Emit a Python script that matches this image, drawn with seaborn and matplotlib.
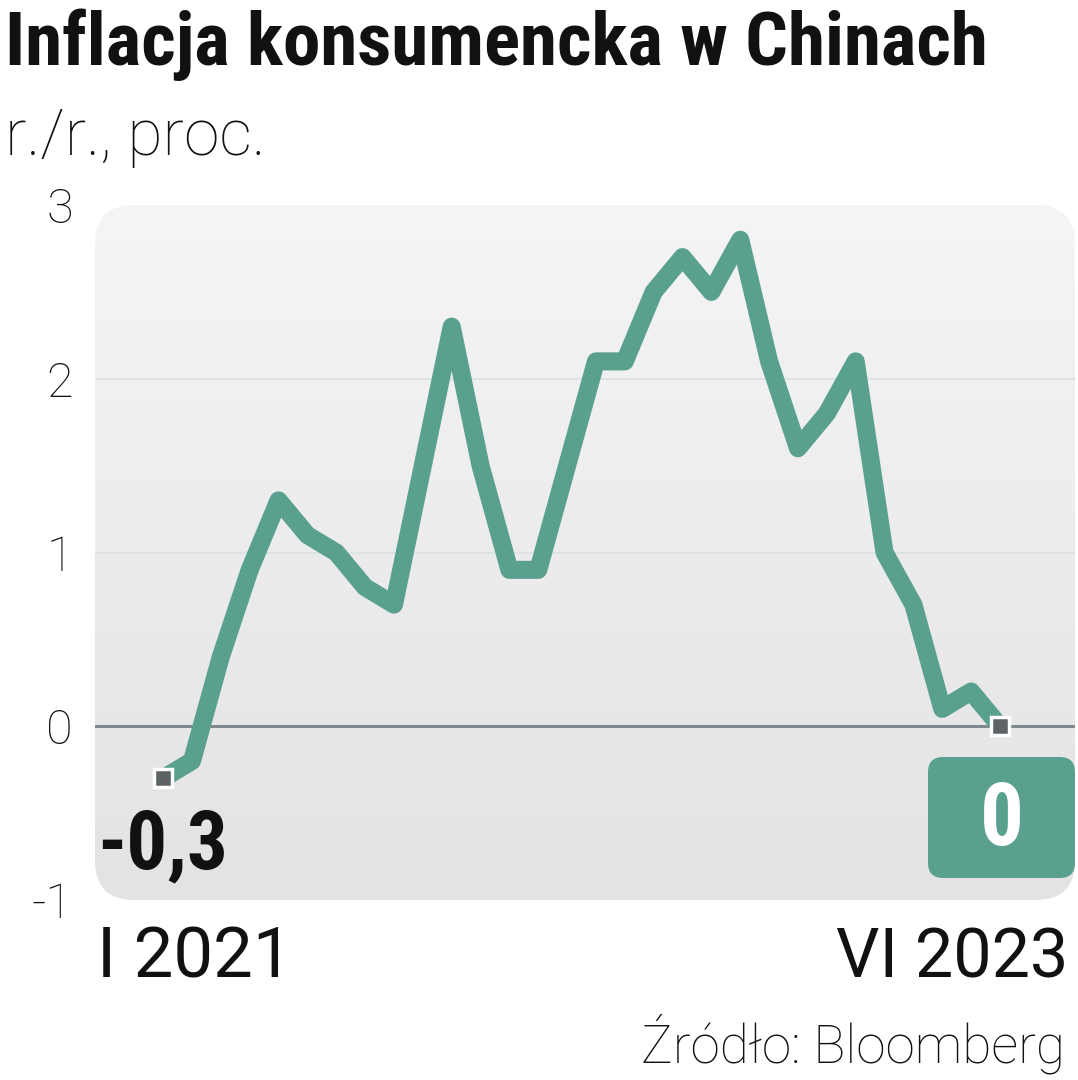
import numpy as np
import pandas as pd
import matplotlib.pyplot as plt
import seaborn as sns
from matplotlib.patches import FancyBboxPatch
from matplotlib.colors import LinearSegmentedColormap

# data: CPI y/y, monthly I 2021 - VI 2023
months = pd.date_range("2021-01-01", periods=30, freq="MS")
cpi = [-0.3, -0.2, 0.4, 0.9, 1.3, 1.1, 1.0, 0.8, 0.7, 1.5, 2.3, 1.5,
       0.9, 0.9, 1.5, 2.1, 2.1, 2.5, 2.7, 2.5, 2.8, 2.1, 1.6, 1.8,
       2.1, 1.0, 0.7, 0.1, 0.2, 0.0]
y_ticks = [-1, 0, 1, 2, 3]
y_tick_labels = ["-1", "0", "1", "2", "3"]
date_labels = ["I 2021", "VI 2023"]

title = "Inflacja konsumencka w Chinach"
subtitle = "r./r., proc."
source = "Źródło: Bloomberg"

df = pd.DataFrame({"idx": np.arange(len(cpi)), "cpi": cpi, "month": months})

TEAL = "#5aa08f"
W, H = 1078, 1080


def pl(v):
    return f"{v:g}".replace(".", ",")


sns.set_theme(style="white")
plt.rcParams["font.family"] = ["Roboto", "DejaVu Sans"]
cond = ["Roboto Condensed", "Liberation Sans Narrow", "Roboto", "DejaVu Sans"]

fig = plt.figure(figsize=(W / 100, H / 100), dpi=100)
ax = fig.add_axes([95 / W, 180 / H, 980 / W, 695 / H])
xmin, xmax = -2.36, 31.6
ax.set_xlim(xmin, xmax)
ax.set_ylim(-1, 3)
ax.set_facecolor("none")
for s in ax.spines.values():
    s.set_visible(False)

# rounded gray panel with soft gradient
bg = FancyBboxPatch((0, 0), 1, 1, boxstyle="round,pad=0,rounding_size=0.04",
                    mutation_aspect=980 / 695, transform=ax.transAxes,
                    facecolor="none", edgecolor="none")
ax.add_patch(bg)
grad = np.linspace(0, 1, 256).reshape(-1, 1)
cmap = LinearSegmentedColormap.from_list("bg", ["#f5f5f5", "#e3e3e3"])
im = ax.imshow(grad, extent=(xmin, xmax, -1, 3), aspect="auto", cmap=cmap,
               origin="upper", zorder=0)
im.set_clip_path(bg)

for g in [1, 2]:
    ax.axhline(g, color="#dde2e5", lw=1.5, zorder=1)
ax.axhline(0, color="#7f898e", lw=2.2, zorder=1)

sns.lineplot(data=df, x="idx", y="cpi", color=TEAL, linewidth=13, ax=ax, zorder=3)
line = ax.lines[-1]
line.set_solid_joinstyle("round")
line.set_solid_capstyle("butt")

ends = df.iloc[[0, -1]]
ax.plot(ends["idx"], ends["cpi"], ls="none", marker="s", ms=13,
        mfc="#5d6265", mec="white", mew=2.5, zorder=4)

ax.set_xticks([])
ax.set_xlabel("")
ax.set_ylabel("")
ax.set_yticks(y_ticks)
ax.set_yticklabels(y_tick_labels, fontsize=35, fontweight="light", color="#111111")
ax.tick_params(axis="y", length=0, pad=16)

fits = []

# first value label
t0 = ax.annotate(pl(cpi[0]), xy=(0, cpi[0]), xytext=(-66, -90),
                 textcoords="offset pixels", ha="left", va="baseline",
                 fontsize=55, fontweight="bold", family=cond, color="#111111")
fits.append((t0, 131))

# last value box
box = FancyBboxPatch((928 / W, 1 - 878 / H), 147 / W, 121 / H,
                     boxstyle="round,pad=0,rounding_size=0.014",
                     transform=fig.transFigure, facecolor=TEAL,
                     edgecolor="none", zorder=5, clip_on=False)
ax.add_patch(box)
t1 = ax.annotate(pl(cpi[-1]), xy=(len(cpi) - 1, cpi[-1]), xytext=(2, -95),
                 textcoords="offset pixels", ha="center", va="center",
                 fontsize=60, fontweight="bold", family=cond, color="white",
                 zorder=6)
fits.append((t1, 44))

tt = fig.text(5 / W, 1 - 65 / H, title, fontsize=50, fontweight="bold",
              family=cond, color="#111111", va="baseline")
fits.append((tt, 985))
ts = fig.text(5 / W, 1 - 155 / H, subtitle, fontsize=38, fontweight="light",
              color="#111111", va="baseline")
fits.append((ts, 260))
td0 = fig.text(97 / W, 1 - 977 / H, date_labels[0], fontsize=48,
               color="#111111", va="baseline")
fits.append((td0, 195))
td1 = fig.text(1068 / W, 1 - 977 / H, date_labels[1], fontsize=48,
               color="#111111", va="baseline", ha="right")
fits.append((td1, 232))
tsrc = fig.text(1065 / W, 1 - 1063 / H, source, fontsize=36, fontweight="light",
                color="#111111", va="baseline", ha="right")
fits.append((tsrc, 425))

r = fig.canvas.get_renderer()
for t, target in fits:
    w = t.get_window_extent(renderer=r).width
    t.set_fontsize(t.get_fontsize() * target / w)

fig.savefig("out.png", dpi=100)
